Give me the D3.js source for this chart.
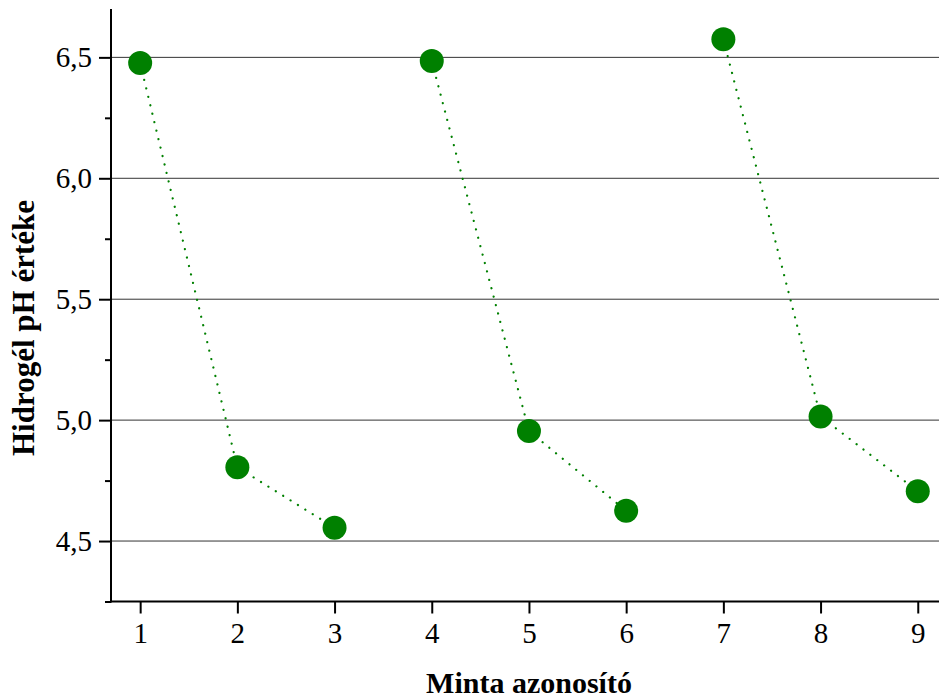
<!DOCTYPE html>
<html>
<head>
<meta charset="utf-8">
<script src="https://cdn.jsdelivr.net/npm/d3@7"></script>
<style>
  html, body { margin: 0; padding: 0; background: #fff; }
  svg { display: block; }
  svg text { font-family: "Liberation Serif", "Times New Roman", Times, serif; }
</style>
</head>
<body>
<svg id="chart" width="939" height="699"></svg>
<script>
const sampleIds = [1, 2, 3, 4, 5, 6, 7, 8, 9];
const phValues = [6.477, 4.805, 4.555, 6.485, 4.955, 4.625, 6.575, 5.015, 4.706];
const seriesGroups = [[0, 1, 2], [3, 4, 5], [6, 7, 8]];
const yMajorTicks = [4.5, 5.0, 5.5, 6.0, 6.5];
const yMinorTicks = [4.25, 4.75, 5.25, 5.75, 6.25];
const xTitle = "Minta azonosító";
const yTitle = "Hidrogél pH értéke";

(function () {
const svg = d3.select("#chart");
const padLeft = 111, padTop = 9, plotBottom = 601.5, unitX = 97.2;
const x = d3.scaleLinear().domain([0.7, 9.3]).range([padLeft, padLeft + 8.6 * unitX]);
const y = d3.scaleLinear().domain([4.25, 6.7]).range([plotBottom, padTop]);
const green = "#008000";
const fontFam = '"Liberation Serif", "Times New Roman", Times, serif';
const tickFont = "29px";

// gridlines
svg.append("g").selectAll("line").data(yMajorTicks).join("line")
  .attr("x1", padLeft).attr("x2", 939)
  .attr("y1", d => y(d)).attr("y2", d => y(d))
  .attr("stroke", "#333").attr("stroke-width", 1);

// y axis
const yAxis = d3.axisLeft(y).tickValues(yMajorTicks).tickSize(12).tickPadding(7)
  .tickFormat(d => d3.format(".1f")(d).replace(".", ","));
const gy = svg.append("g").attr("transform", `translate(${padLeft},0)`).call(yAxis);
gy.attr("font-family", null);
gy.select(".domain").remove();
gy.selectAll(".tick line").attr("stroke", "#000").attr("stroke-width", 2);
gy.selectAll(".tick text").style("font-family", fontFam).style("font-size", tickFont).attr("fill", "#000");
const yAxisMinor = d3.axisLeft(y).tickValues(yMinorTicks).tickSize(6).tickFormat("");
const gym = svg.append("g").attr("transform", `translate(${padLeft},0)`).call(yAxisMinor);
gym.select(".domain").remove();
gym.selectAll(".tick line").attr("stroke", "#000").attr("stroke-width", 2);

// x axis
const xAxis = d3.axisBottom(x).tickValues(sampleIds).tickSize(12).tickPadding(9).tickFormat(d3.format("d"));
const gx = svg.append("g").attr("transform", `translate(0,${plotBottom})`).call(xAxis);
gx.attr("font-family", null);
gx.select(".domain").remove();
gx.selectAll(".tick line").attr("stroke", "#000").attr("stroke-width", 2);
gx.selectAll(".tick text").style("font-family", fontFam).style("font-size", tickFont).attr("fill", "#000");

// axis lines
svg.append("line").attr("x1", padLeft).attr("x2", padLeft).attr("y1", padTop).attr("y2", plotBottom + 1)
  .attr("stroke", "#000").attr("stroke-width", 2);
svg.append("line").attr("x1", padLeft - 1).attr("x2", 939).attr("y1", plotBottom).attr("y2", plotBottom)
  .attr("stroke", "#000").attr("stroke-width", 2);

// dotted lines
const line = d3.line().x(i => x(sampleIds[i])).y(i => y(phValues[i]));
svg.append("g").selectAll("path").data(seriesGroups).join("path")
  .attr("d", g => line(g))
  .attr("fill", "none").attr("stroke", green).attr("stroke-width", 2.2)
  .attr("stroke-linecap", "round").attr("stroke-dasharray", "0.1,8.6");

// points
svg.append("g").selectAll("circle").data(sampleIds).join("circle")
  .attr("cx", d => x(d)).attr("cy", (d, i) => y(phValues[i]))
  .attr("r", 12).attr("fill", green);

// titles
svg.append("text").attr("x", 529).attr("y", 693).attr("text-anchor", "middle")
  .style("font-family", fontFam).style("font-weight", "bold").style("font-size", "30px")
  .text(xTitle);
svg.append("text").attr("transform", "translate(34,328) rotate(-90)").attr("text-anchor", "middle")
  .style("font-family", fontFam).style("font-weight", "bold").style("font-size", "31px")
  .text(yTitle);
})();
</script>
</body>
</html>
